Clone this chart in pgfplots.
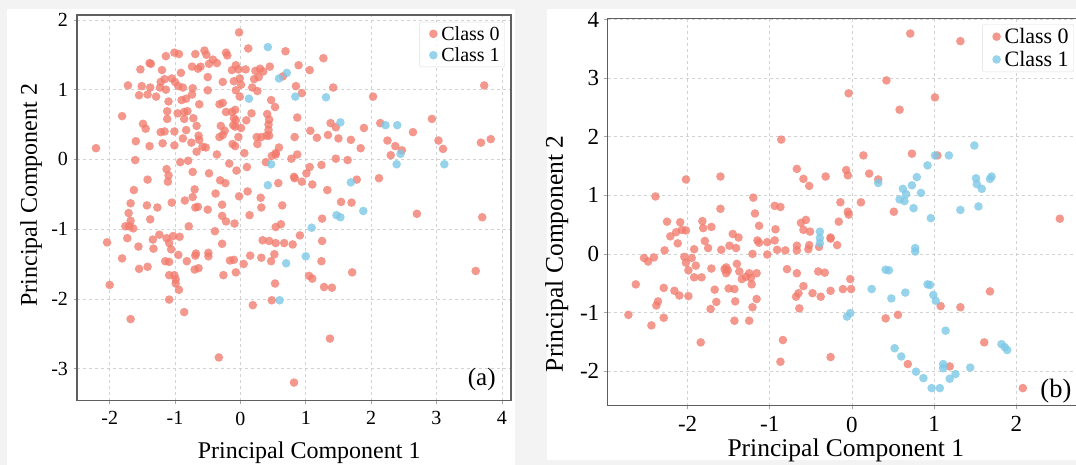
\documentclass[border=0pt]{standalone}
\usepackage{pgfplots}
\pgfplotsset{compat=1.18}
\usepackage{pgfplotstable}
\usepackage{fontspec}
\setmainfont{Liberation Serif}
\definecolor{c0}{RGB}{242,122,108}
\definecolor{c1}{RGB}{125,200,230}
\definecolor{bggray}{RGB}{243,243,243}
\definecolor{frame}{RGB}{95,95,95}

\pgfplotstableread{
x y
-0.02 1.82
0.12 1.59
0.69 1.55
-1.14 1.48
-1.01 1.53
-0.94 1.51
-0.69 1.51
-0.55 1.56
-0.52 1.50
-0.22 1.53
-0.20 1.49
-1.39 1.38
-1.37 1.37
-1.53 1.29
-1.20 1.28
-0.91 1.24
-0.74 1.33
-0.65 1.30
-0.61 1.33
-0.48 1.37
-0.42 1.43
-0.36 1.38
-0.50 1.18
-0.13 1.28
-0.07 1.35
-0.03 1.29
0.08 1.29
0.23 1.27
0.30 1.30
0.35 1.26
0.45 1.33
0.21 1.15
0.28 1.18
0.65 1.19
0.89 1.35
-1.72 1.06
-1.51 1.05
-1.38 1.03
-1.55 0.92
-1.42 0.93
-1.29 0.90
-1.22 1.11
-1.16 1.15
-1.23 1.03
-1.14 1.00
-1.05 1.16
-1.00 1.11
-0.95 1.05
-0.88 1.03
-0.73 1.02
-0.50 0.99
-0.27 1.11
-0.10 1.12
-0.01 1.16
0.01 1.07
-0.07 0.99
-0.01 0.90
0.18 1.03
0.26 0.98
0.47 0.85
0.53 0.75
-1.10 0.83
-0.90 0.85
-0.83 0.87
-0.74 0.93
-0.63 0.79
-1.12 0.69
-1.12 0.58
-0.96 0.66
-0.86 0.68
-0.81 0.69
-0.86 0.58
-0.72 0.59
-0.67 0.48
-0.32 0.79
-0.27 0.81
-0.22 0.68
-0.13 0.68
-0.08 0.71
-0.10 0.59
-0.07 0.56
0.09 0.56
0.17 0.66
0.41 0.65
0.44 0.57
0.43 0.50
0.43 0.42
0.40 0.34
-1.81 0.62
-1.49 0.51
-1.45 0.44
-1.22 0.39
-1.16 0.40
-1.01 0.40
-0.83 0.42
-0.88 0.30
-0.64 0.34
-0.63 0.28
-0.75 0.24
-0.67 0.11
-0.58 0.18
-0.53 0.17
-0.30 0.48
-0.24 0.41
-0.32 0.32
-0.27 0.35
-0.11 0.49
-0.08 0.47
0.01 0.45
-0.03 0.32
-0.12 0.22
-0.08 0.19
0.06 0.09
0.25 0.32
0.32 0.32
0.44 0.34
0.26 0.22
0.54 0.09
0.59 0.17
0.48 0.05
0.54 0.07
-2.21 0.16
-1.60 0.26
-1.39 0.19
-1.19 0.23
-1.01 0.20
-1.61 -0.01
-0.92 -0.04
-0.80 -0.02
-0.73 -0.18
-0.48 -0.20
-0.36 0.07
-0.17 -0.06
-0.06 -0.16
0.10 -0.11
0.39 -0.04
0.78 0.01
0.82 -0.25
0.58 -0.34
-1.13 -0.14
-1.10 -0.23
-1.11 -0.32
-1.42 -0.29
-1.63 -0.44
-0.31 -0.30
-0.23 -0.34
-0.02 -0.53
0.11 -0.46
-0.38 -0.49
-0.70 -0.43
1.27 1.45
1.06 1.28
0.85 1.05
0.94 0.95
1.42 1.03
2.03 0.90
3.73 1.06
0.87 0.60
1.38 0.52
1.46 0.46
1.07 0.41
1.17 0.31
1.34 0.35
1.50 0.30
0.83 0.32
1.69 0.28
1.84 0.16
1.89 0.45
2.14 0.52
2.64 0.39
2.93 0.58
2.25 0.27
2.37 0.19
2.47 0.13
2.30 0.06
3.03 0.27
3.10 0.15
3.68 0.24
3.83 0.29
0.87 0.07
1.46 0.01
1.64 -0.01
1.24 -0.08
1.06 -0.11
1.01 -0.20
0.83 -0.27
0.94 -0.32
1.10 -0.36
1.78 -0.29
2.12 -0.27
1.33 -0.44
0.31 -0.55
0.32 -0.69
0.64 -0.66
-1.68 -0.63
-1.43 -0.66
-1.27 -0.69
-1.05 -0.62
-0.85 -0.59
-0.73 -0.54
-0.69 -0.69
-0.65 -0.68
-0.50 -0.72
-0.28 -0.65
-1.71 -0.77
-1.68 -0.88
-1.76 -0.96
-1.70 -0.96
-1.64 -0.99
-1.38 -0.86
-0.28 -0.81
-0.22 -0.89
-0.09 -0.92
0.14 -0.80
-0.79 -0.96
-0.39 -1.03
-2.04 -1.19
-1.73 -1.13
-1.56 -1.25
-1.34 -1.15
-1.33 -1.28
-1.24 -1.08
-1.13 -1.13
-1.03 -1.10
-0.93 -1.11
-1.09 -1.20
-1.06 -1.29
-0.95 -1.37
-0.68 -1.35
-0.69 -1.38
-0.49 -1.34
-0.49 -1.39
-0.28 -1.21
0.34 -1.16
0.44 -1.17
0.54 -0.97
0.62 -0.93
0.54 -1.20
0.67 -1.20
0.80 -1.22
0.52 -1.36
-1.81 -1.42
-1.55 -1.57
-1.42 -1.54
-1.15 -1.46
-1.09 -1.47
-0.82 -1.46
-0.70 -1.58
-0.64 -1.56
-0.26 -1.66
-0.16 -1.45
-0.10 -1.44
-0.07 -1.62
0.05 -1.50
0.15 -1.38
0.32 -1.41
0.47 -1.46
0.53 -1.78
-1.09 -1.66
-1.01 -1.66
-0.99 -1.72
-0.99 -1.78
-0.94 -1.87
-2.00 -1.80
-1.09 -2.01
0.48 -2.02
0.19 -2.09
-1.68 -2.29
-0.86 -2.19
-0.33 -2.84
0.82 -3.20
1.54 -0.61
1.70 -0.62
1.25 -0.85
2.70 -0.78
3.70 -0.83
0.91 -1.09
1.25 -1.17
1.24 -1.46
1.71 -1.62
1.05 -1.67
1.10 -1.71
1.28 -1.83
1.40 -1.84
3.60 -1.60
1.37 -2.57
}\dataAzero

\pgfplotstableread{
x y
0.42 1.61
0.59 1.16
0.71 1.24
0.84 0.90
0.13 0.87
1.31 0.89
1.53 0.53
2.22 0.49
2.40 0.49
2.45 0.08
2.39 -0.07
3.12 -0.07
0.47 -0.07
0.42 -0.37
1.69 -0.33
1.47 -0.80
1.53 -0.83
1.88 -0.74
1.09 -0.98
1.00 -1.39
0.70 -1.49
0.60 -2.02
}\dataAone

\pgfplotstableread{
x y
-0.86 1.95
-2.02 1.27
-1.60 1.32
-2.39 0.98
-1.20 0.96
-1.60 0.77
-0.67 1.45
-0.59 1.28
-0.52 1.16
-0.94 0.82
-0.87 0.80
-1.18 0.69
-2.25 0.55
-2.09 0.54
-1.82 0.56
-1.81 0.44
-1.71 0.46
-2.14 0.37
-2.07 0.41
-2.02 0.40
-2.21 0.30
-1.45 0.34
-1.38 0.28
-1.13 0.48
-0.93 0.42
-0.62 0.53
-0.56 0.58
-0.59 0.41
0.71 3.76
1.32 3.63
0.42 2.96
-0.04 2.74
1.01 2.67
0.58 2.46
0.14 1.68
0.73 1.71
1.04 1.68
-0.32 1.32
-0.07 1.43
-0.05 1.34
0.21 1.37
0.32 1.27
-0.14 0.88
0.11 0.88
-0.05 0.72
-0.04 0.67
-0.16 0.55
0.51 0.72
-0.26 0.28
2.53 0.60
-0.51 0.38
-2.72 -1.04
-2.63 -0.52
-2.44 -1.22
-2.53 -0.07
-2.48 -0.13
-2.41 -0.06
-2.28 0.06
-2.12 0.18
-2.29 -0.58
-2.16 -0.63
-2.10 -0.71
-2.36 -0.81
-2.38 -0.88
-2.29 -1.09
-1.99 -0.72
-2.04 -0.05
-2.02 -0.15
-1.95 -0.07
-1.92 0.08
-1.99 -0.28
-1.92 -0.40
-1.83 -0.40
-1.90 -0.20
-1.79 0.22
-1.75 0.10
-1.71 -0.25
-1.67 -0.61
-1.65 -0.82
-1.72 -0.94
-1.84 -1.51
-1.59 0.07
-1.55 -0.26
-1.53 -0.23
-1.51 -0.28
-1.53 -0.33
-1.49 0.14
-1.41 0.10
-1.40 -0.17
-1.37 -0.30
-1.50 -0.59
-1.43 -0.60
-1.42 -0.81
-1.43 -1.14
-1.25 -1.14
-1.34 -0.43
-1.29 -0.39
-1.25 -0.33
-1.23 -0.41
-1.16 -0.33
-1.22 -0.52
-1.21 -0.91
-1.16 -0.77
-1.21 0.00
-1.15 0.23
-1.13 0.19
-1.03 -0.01
-1.03 0.20
-0.94 0.23
-0.91 0.07
-0.81 0.06
-0.79 -0.26
-0.84 -1.47
-0.87 -1.84
-0.67 0.14
-0.67 0.06
-0.67 -0.33
-0.65 -0.67
-0.68 -0.73
-0.59 -0.55
-0.64 -0.93
-0.53 0.08
-0.52 0.15
-0.40 0.12
-0.26 0.26
-0.18 0.15
-0.41 -0.30
-0.33 -0.32
-0.48 -0.67
-0.38 -0.73
-0.26 -0.63
-0.11 -0.60
-0.01 -0.60
-0.02 -0.43
-0.26 -1.76
1.08 -0.89
1.32 -0.91
0.41 -1.10
0.56 -1.04
1.68 -0.64
1.61 -1.51
0.68 -1.88
1.19 -1.92
2.08 -2.29
}\dataBzero

\pgfplotstableread{
x y
1.49 1.85
1.01 1.68
1.18 1.68
0.92 1.51
0.32 1.21
0.79 1.31
0.73 1.17
0.62 1.11
0.66 1.02
0.84 1.04
1.51 1.29
1.52 1.19
1.58 1.11
1.70 1.32
1.68 1.28
0.58 0.93
0.64 0.90
0.75 0.78
1.32 0.75
1.54 0.81
0.96 0.61
-0.39 0.38
-0.39 0.27
-0.39 0.18
-0.06 -1.07
-0.02 -1.01
0.24 -0.60
0.41 -0.27
0.45 -0.28
0.77 0.10
0.77 0.04
0.48 -0.76
0.65 -0.66
0.92 -0.52
0.95 -0.53
0.99 -0.70
1.02 -0.80
1.14 -1.31
1.82 -1.54
1.86 -1.59
1.89 -1.64
0.52 -1.61
0.60 -1.75
0.78 -2.01
0.87 -2.12
0.97 -2.29
1.07 -2.29
1.11 -1.88
1.11 -1.95
1.19 -2.13
1.26 -2.05
1.44 -1.94
}\dataBone

\pgfplotsset{
  pcastyle/.style={
    scale only axis,
    axis line style={frame, line width=1.3pt},
    grid=major,
    grid style={dashed, gray!35, line width=0.6pt},
    tick align=outside,
    major tick length=3.5pt,
    tick style={gray!70, line width=0.6pt},
    xtick pos=bottom, ytick pos=left,
    /pgf/number format/assume math mode=true,
    legend cell align=left,
    legend image code/.code={\pgfpathrectangle{\pgfpoint{0pt}{-4.5pt}}{\pgfpoint{17pt}{9pt}}\pgfusepath{use as bounding box}\draw[##1] plot coordinates {(11pt,0pt)};},
    legend style={draw=gray!25, rounded corners=2pt, fill=white, fill opacity=0.85, text opacity=1, inner xsep=3pt, inner ysep=2pt, row sep=2pt},
  },
  c0mark/.style={only marks, mark=*, mark size=4.3pt, color=c0, mark options={draw opacity=0, fill=c0, fill opacity=0.78}},
  c1mark/.style={only marks, mark=*, mark size=4.3pt, color=c1, mark options={draw opacity=0, fill=c1, fill opacity=0.8}},
}

\begin{document}
\begin{tikzpicture}
\useasboundingbox (0pt,0pt) rectangle (1076pt,465pt);
\fill[bggray] (0pt,0pt) rectangle (1076pt,465pt);
\fill[white] (7pt,0pt) rectangle (515pt,456pt);
\fill[white] (547pt,5pt) rectangle (1076pt,456pt);

\begin{axis}[pcastyle,
  at={(77pt,64.3pt)}, anchor=south west,
  width=434pt, height=385.7pt,
  xmin=-2.5, xmax=4.14, ymin=-3.46, ymax=2.07,
  xtick={-2,-1,0,1,2,3,4}, ytick={-3,-2,-1,0,1,2},
  ticklabel style={font=\fontsize{20}{24}\selectfont},
  xticklabel style={yshift=-4pt},
  yticklabel style={xshift=-2pt},
  xlabel={Principal Component 1}, ylabel={Principal Component 2},
  label style={font=\fontsize{24}{28}\selectfont},
  xlabel style={at={(axis description cs:0.535,-0.151)}, anchor=base},
  ylabel style={at={(axis description cs:-0.106,0.533)}, anchor=center},
  legend style={at={(axis description cs:0.986,0.982)}, anchor=north east, font=\fontsize{20}{22}\selectfont},
]
\addplot[c0mark] table[x=x,y=y] {\dataAzero};
\addlegendentry{Class 0}
\addplot[c1mark] table[x=x,y=y] {\dataAone};
\addlegendentry{Class 1}
\node[font=\fontsize{25}{28}\selectfont] at (axis description cs:0.9325,0.054) {(a)};
\end{axis}

\begin{axis}[pcastyle,
  at={(607.7pt,59.3pt)}, anchor=south west,
  width=474.3pt, height=387.4pt,
  xmin=-2.972, xmax=2.80, ymin=-2.59, ymax=4.02,
  xtick={-2,-1,0,1,2}, ytick={-2,-1,0,1,2,3,4},
  ticklabel style={font=\fontsize{23}{27}\selectfont},
  xticklabel style={yshift=-4pt},
  yticklabel style={xshift=-1.5pt},
  xlabel={Principal Component 1}, ylabel={Principal Component 2},
  label style={font=\fontsize{25.5}{29}\selectfont},
  xlabel style={at={(axis description cs:0.502,-0.1316)}, anchor=base},
  ylabel style={at={(axis description cs:-0.1075,0.392)}, anchor=center},
  legend style={at={(axis description cs:0.983,0.985)}, anchor=north east, font=\fontsize{22}{24}\selectfont},
]
\addplot[c0mark] table[x=x,y=y] {\dataBzero};
\addlegendentry{Class 0}
\addplot[c1mark] table[x=x,y=y] {\dataBone};
\addlegendentry{Class 1}
\node[font=\fontsize{26.5}{30}\selectfont] at (axis description cs:0.945,0.038) {(b)};
\end{axis}
\end{tikzpicture}
\end{document}
